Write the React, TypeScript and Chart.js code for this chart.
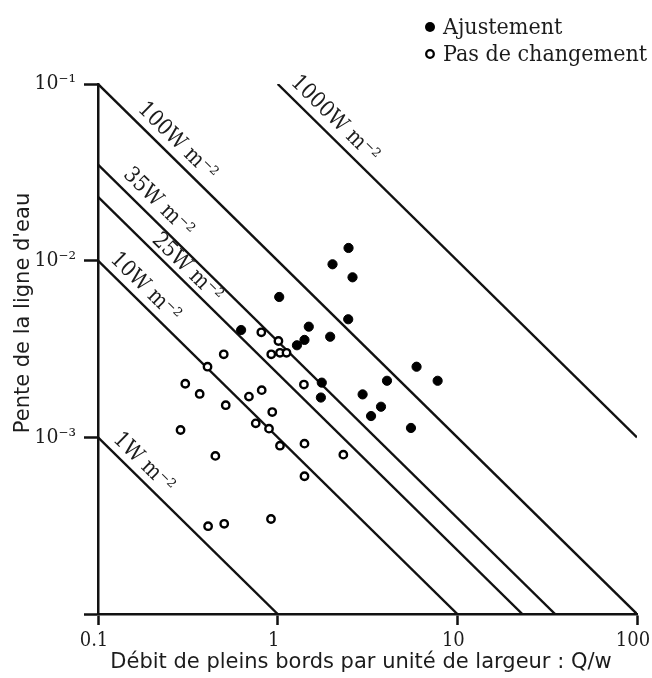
import React, { useEffect, useRef } from 'react';
import { Chart, registerables } from 'chart.js';

Chart.register(...registerables);

// ---------- data ----------
const ajustementX = [2.48, 2.02, 2.61, 1.02, 2.47, 0.626, 1.49, 1.96, 1.41, 1.28, 5.93, 7.77, 1.76, 4.06, 2.97, 1.74, 3.76, 3.31, 5.52];
const ajustementY = [0.0118, 0.00954, 0.00805, 0.00623, 0.00466, 0.00405, 0.00423, 0.00371, 0.00356, 0.00332, 0.00251, 0.00209, 0.00204, 0.00209, 0.00175, 0.00168, 0.00149, 0.00132, 0.00113];

const pasDeChangementX = [0.811, 1.01, 0.921, 1.03, 1.12, 0.501, 0.407, 0.306, 0.368, 0.514, 0.692, 0.815, 1.40, 0.933, 0.755, 0.895, 0.288, 1.03, 1.41, 2.32, 0.450, 1.41, 0.410, 0.504, 0.918];
const pasDeChangementY = [0.00393, 0.00351, 0.00295, 0.00301, 0.00301, 0.00295, 0.00251, 0.00201, 0.00176, 0.00152, 0.00170, 0.00185, 0.00199, 0.00139, 0.00120, 0.00112, 0.00110, 0.000897, 0.000921, 0.000798, 0.000785, 0.000602, 0.000314, 0.000324, 0.000345];

const seriesLabels = ['Ajustement', 'Pas de changement'];

const powerLabels = ['1W m⁻²', '10W m⁻²', '25W m⁻²', '35W m⁻²', '100W m⁻²', '1000W m⁻²'];
const lineStartX = [0.1, 0.1, 0.1, 0.1, 0.1, 1];
const lineStartY = [0.001, 0.01, 0.023, 0.035, 0.1, 0.1];
const lineEndX = [1, 10, 23, 35, 100, 100];
const lineEndY = [0.0001, 0.0001, 0.0001, 0.0001, 0.0001, 0.001];

const xTickValues = [0.1, 1, 10, 100];
const xTickLabels = ['0.1', '1', '10', '100'];
const yTickValues = [0.0001, 0.001, 0.01, 0.1];
const yTickLabels = ['', '10⁻³', '10⁻²', '10⁻¹'];

const xTitle = 'Débit de pleins bords par unité de largeur : Q/w';
const yTitle = "Pente de la ligne d'eau";

// ---------- layout / style ----------
const SERIF = "'DejaVu Serif Condensed', 'DejaVu Serif', serif";
const SANS = "'DejaVu Sans', sans-serif";
const INK = '#1c1c1c';
const labelAnchorX = [0.1585, 0.1615, 0.282, 0.189, 0.2425, 1.817];
const labelOffset = [13.5, 14, 11.5, 15, 14.5, 15];

const annotPlugin = {
  id: 'annot',
  afterDatasetsDraw(chart: any) {
    const ctx = chart.ctx as CanvasRenderingContext2D;
    const xs = chart.scales.x;
    const ys = chart.scales.y;
    ctx.save();
    ctx.fillStyle = INK;
    // stream power line labels
    ctx.font = `22px ${SERIF}`;
    ctx.textAlign = 'center';
    ctx.textBaseline = 'middle';
    powerLabels.forEach((txt, i) => {
      const x1 = xs.getPixelForValue(lineStartX[i]);
      const y1 = ys.getPixelForValue(lineStartY[i]);
      const x2 = xs.getPixelForValue(lineEndX[i]);
      const y2 = ys.getPixelForValue(lineEndY[i]);
      const a = Math.atan2(y2 - y1, x2 - x1);
      const px = xs.getPixelForValue(labelAnchorX[i]);
      const t = (px - x1) / (x2 - x1);
      const py = y1 + t * (y2 - y1);
      const off = labelOffset[i];
      const cx = px + off * Math.sin(a);
      const cy = py - off * Math.cos(a);
      ctx.save();
      ctx.translate(cx, cy);
      ctx.rotate(a);
      ctx.fillText(txt, 0, 0);
      ctx.restore();
    });
    // legend
    ctx.textAlign = 'left';
    ctx.font = `23px ${SERIF}`;
    const rows = [27, 54];
    seriesLabels.forEach((lab, i) => {
      const y = rows[i];
      ctx.beginPath();
      ctx.arc(430, y, i === 0 ? 5 : 3.8, 0, Math.PI * 2);
      if (i === 0) {
        ctx.fillStyle = '#000';
        ctx.fill();
      } else {
        ctx.fillStyle = '#fff';
        ctx.fill();
        ctx.lineWidth = 2.3;
        ctx.strokeStyle = '#000';
        ctx.stroke();
      }
      ctx.fillStyle = INK;
      ctx.fillText(lab, 443, y + 1);
    });
    // axis titles
    ctx.font = `21px ${SANS}`;
    ctx.textAlign = 'center';
    ctx.fillText(xTitle, 361, 663);
    ctx.save();
    ctx.translate(24, 313);
    ctx.rotate(-Math.PI / 2);
    ctx.fillText(yTitle, 0, 0);
    ctx.restore();
    ctx.restore();
  },
};

export default function App() {
  const ref = useRef<HTMLCanvasElement>(null);
  useEffect(() => {
    const lineSets = powerLabels.map((lab, i) => ({
      label: lab,
      data: [
        { x: lineStartX[i], y: lineStartY[i] },
        { x: lineEndX[i], y: lineEndY[i] },
      ],
      showLine: true,
      borderColor: '#111',
      borderWidth: 2.4,
      pointRadius: 0,
      fill: false,
    }));
    const chart = new Chart(ref.current as HTMLCanvasElement, {
      type: 'scatter',
      data: {
        datasets: [
          {
            label: seriesLabels[0],
            data: ajustementX.map((x, i) => ({ x, y: ajustementY[i] })),
            backgroundColor: '#000',
            borderColor: '#000',
            borderWidth: 1,
            pointRadius: 4.6,
          },
          {
            label: seriesLabels[1],
            data: pasDeChangementX.map((x, i) => ({ x, y: pasDeChangementY[i] })),
            backgroundColor: '#fff',
            borderColor: '#000',
            borderWidth: 2.4,
            pointRadius: 3.7,
          },
          ...lineSets,
        ] as any,
      },
      options: {
        animation: false,
        responsive: true,
        maintainAspectRatio: false,
        events: [],
        layout: { padding: { top: 84, right: 15, left: 0, bottom: 0 } },
        plugins: {
          legend: { display: false },
          tooltip: { enabled: false },
          title: { display: false },
        },
        scales: {
          x: {
            type: 'logarithmic',
            position: 'bottom',
            min: 0.1,
            max: 100,
            afterBuildTicks: (s: any) => {
              s.ticks = xTickValues.map((v) => ({ value: v }));
            },
            afterFit: (s: any) => {
              s.height = 64;
              s.paddingLeft = 0;
              s.paddingRight = 0;
            },
            ticks: {
              autoSkip: false,
              maxRotation: 0,
              minRotation: 0,
              padding: 4,
              labelOffset: -4,
              color: INK,
              font: { family: SERIF, size: 20 },
              callback: (_v: any, i: number) => xTickLabels[i],
            },
            grid: {
              display: true,
              drawOnChartArea: false,
              drawTicks: true,
              tickLength: 11,
              tickWidth: 2.5,
              tickColor: '#111',
            },
            border: { display: true, color: '#111', width: 2.5 },
          },
          y: {
            type: 'logarithmic',
            position: 'left',
            min: 0.0001,
            max: 0.1,
            afterBuildTicks: (s: any) => {
              s.ticks = yTickValues.map((v) => ({ value: v }));
            },
            afterFit: (s: any) => {
              s.width = 98;
              s.paddingTop = 0;
              s.paddingBottom = 0;
            },
            ticks: {
              autoSkip: false,
              padding: 8,
              color: INK,
              font: { family: SERIF, size: 21 },
              callback: (_v: any, i: number) => yTickLabels[i],
            },
            grid: {
              display: true,
              drawOnChartArea: false,
              drawTicks: true,
              tickLength: 14,
              tickWidth: 2.5,
              tickColor: '#111',
            },
            border: { display: true, color: '#111', width: 2.5 },
          },
        },
      } as any,
      plugins: [annotPlugin],
    });
    return () => chart.destroy();
  }, []);
  return (
    <div style={{ position: 'absolute', left: 0, top: 0, width: 652, height: 678, background: '#fff' }}>
      <canvas ref={ref} />
    </div>
  );
}
